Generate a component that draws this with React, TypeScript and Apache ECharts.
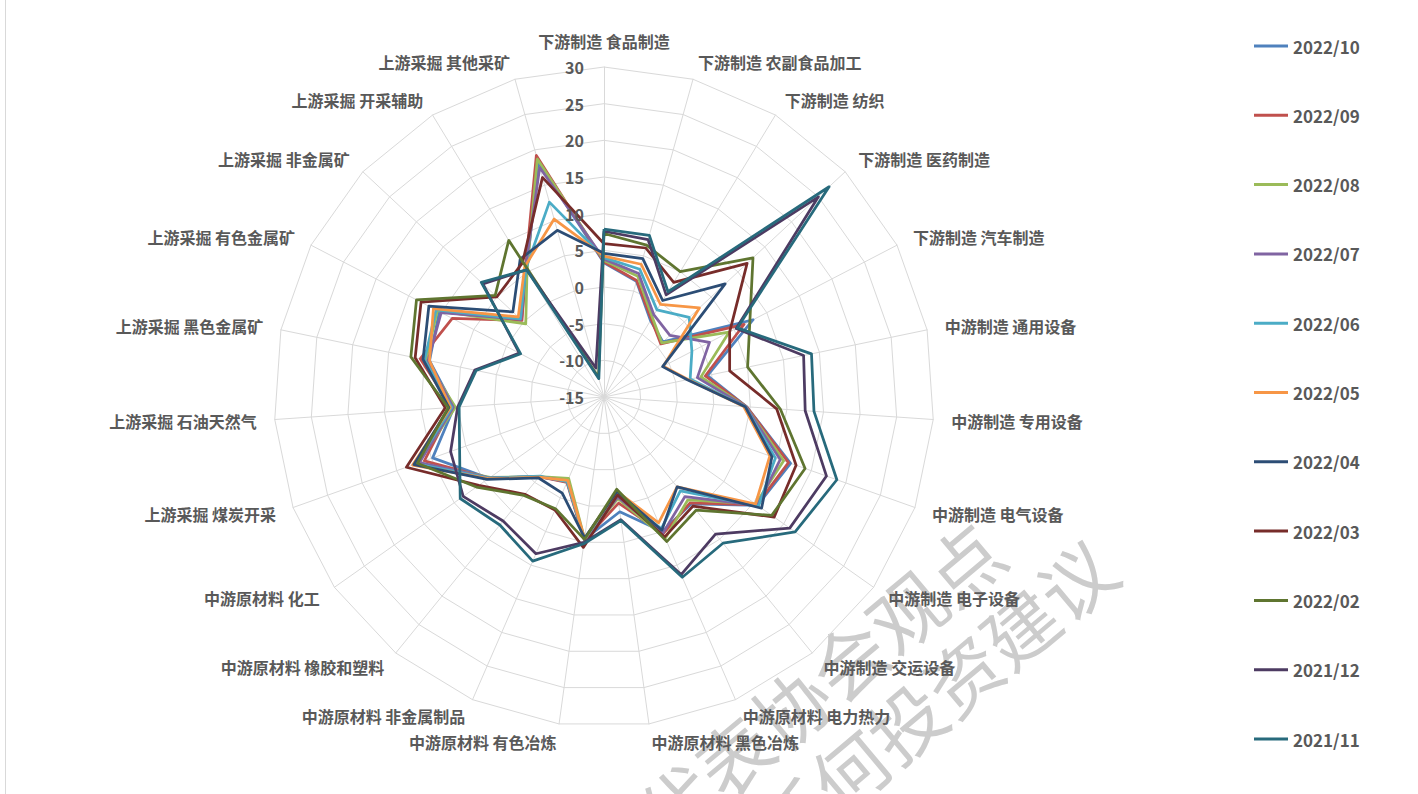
import React, { useEffect, useRef } from 'react';
import * as echarts from 'echarts';

const FONT = "'Noto Sans CJK SC', 'Noto Sans', sans-serif";

// clockwise from top
const categories = [
  '下游制造 食品制造', '下游制造 农副食品加工', '下游制造 纺织', '下游制造 医药制造', '下游制造 汽车制造',
  '中游制造 通用设备', '中游制造 专用设备', '中游制造 电气设备', '中游制造 电子设备', '中游制造 交运设备',
  '中游原材料 电力热力', '中游原材料 黑色冶炼', '中游原材料 有色冶炼', '中游原材料 非金属制品',
  '中游原材料 橡胶和塑料', '中游原材料 化工',
  '上游采掘 煤炭开采', '上游采掘 石油天然气', '上游采掘 黑色金属矿', '上游采掘 有色金属矿',
  '上游采掘 非金属矿', '上游采掘 开采辅助', '上游采掘 其他采矿',
];

const periods = ['2022/10', '2022/09', '2022/08', '2022/07', '2022/06', '2022/05', '2022/04', '2022/03', '2022/02', '2021/12', '2021/11'];

const colors = ['#4F81BD', '#C0504D', '#9BBB59', '#8064A2', '#4BACC6', '#F79646', '#2C4D75', '#772C2A', '#5F7530', '#4D3B62', '#276A7C'];

const v202210 = [3.3, 1.4, -2.8, -4.0, 7.9, -0.6, 4.5, 12.0, 10.6, 3.8, 5.0, 0.8, 4.6, -2.4, -1.0, 4.2, 9.8, 5.5, 9.3, 10.3, 0.4, 5.3, 18.3];
const v202209 = [3.4, 1.5, -2.6, -4.4, 6.5, -0.9, 4.5, 11.7, 10.5, 3.6, 5.3, -0.4, 4.7, -2.3, -1.0, 4.2, 11.0, 5.8, 10.6, 8.3, 0.3, 5.6, 19.2];
const v202208 = [3.6, 2.1, -2.3, -4.2, 4.2, -1.5, 4.4, 11.0, 10.3, 3.1, 6.0, -1.0, 4.5, -2.9, -1.0, 4.0, 12.0, 5.3, 9.8, 10.6, -0.4, 5.2, 18.7];
const v202207 = [3.8, 2.5, -1.9, -2.7, 1.2, -2.0, 4.4, 10.5, 10.6, 2.5, 5.2, -1.2, 4.6, -2.5, -1.0, 4.1, 11.7, 5.6, 9.5, 10.0, 0.5, 5.6, 17.5];
const v202206 = [4.0, 3.1, -1.1, 0.9, -1.5, -3.0, 4.3, 9.8, 10.8, 1.5, 4.6, -1.6, 4.6, -2.4, -1.1, 4.2, 12.2, 5.8, 10.0, 10.8, 0.6, 5.5, 12.6];
const v202205 = [4.2, 3.8, -0.2, 2.8, -5.9, -3.3, 4.1, 9.0, 10.3, 0.8, 3.7, -2.0, 4.5, -2.6, -0.9, 4.3, 12.7, 6.0, 9.3, 11.2, 1.0, 5.8, 10.2];
const v202204 = [4.6, 4.6, 0.4, 7.6, -6.0, -3.4, 4.3, 9.3, 11.3, 0.8, 4.8, -2.0, 4.4, -0.7, -0.8, 4.5, 12.5, 6.2, 10.2, 11.9, 2.0, 7.0, 8.6];
const v202203 = [5.9, 6.1, 3.3, 11.7, 4.3, 2.5, 8.6, 12.8, 13.4, 4.2, 5.8, -1.5, 5.7, 1.8, 2.1, 5.9, 13.6, 6.7, 11.3, 13.1, 5.0, 6.4, 16.1];
const v202202 = [7.3, 6.5, 5.0, 12.8, 7.4, 5.0, 9.1, 14.1, 13.0, 4.9, 6.5, -2.3, 4.6, 1.6, 2.3, 6.3, 12.0, 6.3, 11.9, 13.8, 5.3, 10.0, -12.2];
const v202112 = [7.6, 7.3, 1.3, 25.0, 5.3, 12.8, 12.5, 17.2, 16.0, 9.1, 11.4, 1.9, 5.0, 8.3, 6.8, 8.5, 7.2, 5.0, 3.0, -2.0, 7.6, 5.3, -10.9];
const v202111 = [7.9, 7.9, 1.8, 27.0, 5.5, 13.9, 13.7, 18.7, 16.9, 10.7, 11.8, 2.0, 5.2, 9.4, 7.5, 9.0, 5.9, 4.8, 2.8, -2.2, 7.9, 5.3, -12.4];

const seriesValues = [v202210, v202209, v202208, v202207, v202206, v202205, v202204, v202203, v202202, v202112, v202111];

const axisMin = -15;
const axisMax = 30;
const axisStep = 5;

export default function App() {
  const ref = useRef<HTMLDivElement>(null);

  useEffect(() => {
    document.body.style.margin = '0';
    const chart = echarts.init(ref.current as HTMLDivElement, null, { renderer: 'svg' });
    // ECharts lays radar indicators counter-clockwise; reorder to get clockwise order
    const order = [0];
    for (let i = categories.length - 1; i >= 1; i--) order.push(i);

    const rot = (40 * Math.PI) / 180;

    const option: any = {
      animation: false,
      backgroundColor: '#ffffff',
      color: colors,
      legend: {
        data: periods,
        orient: 'vertical',
        left: 1249,
        top: 31,
        icon: 'rect',
        itemWidth: 34,
        itemHeight: 3,
        itemGap: 49.3,
        textStyle: { fontSize: 17, fontWeight: 'bold', color: '#595959', lineHeight: 20, fontFamily: FONT },
      },
      radar: {
        center: [604, 397],
        radius: 330,
        startAngle: 90,
        shape: 'polygon',
        splitNumber: (axisMax - axisMin) / axisStep,
        indicator: order.map((i) => ({ name: categories[i], min: axisMin, max: axisMax })),
        axisName: { color: '#595959', fontSize: 16, fontWeight: 'bold', fontFamily: FONT },
        nameGap: 18,
        axisLine: { lineStyle: { color: '#d9d9d9', width: 1 } },
        splitLine: { lineStyle: { color: '#d9d9d9', width: 1 } },
        splitArea: { show: false },
        axisTick: { show: false },
        axisLabel: { show: false },
      },
      polar: { center: [604, 397], radius: 330 },
      angleAxis: { type: 'value', min: 0, max: 360, startAngle: 90, show: false },
      radiusAxis: {
        type: 'value',
        min: axisMin,
        max: axisMax,
        interval: axisStep,
        axisLine: { show: false },
        axisTick: { show: false },
        splitLine: { show: false },
        axisLabel: { show: true, fontSize: 16, fontWeight: 'bold', color: '#595959', margin: 20, fontFamily: FONT },
        z: 20,
      },
      series: periods.map((p, k) => ({
        type: 'radar',
        name: p,
        symbol: 'none',
        z: 2 + k,
        lineStyle: { width: 2.75, color: colors[k] },
        itemStyle: { color: colors[k] },
        data: [{ name: p, value: order.map((i) => seriesValues[k][i]) }],
      })),
      graphic: [
        {
          type: 'line',
          silent: true,
          z: 0,
          shape: { x1: 5.5, y1: 0, x2: 5.5, y2: 794 },
          style: { stroke: '#d9d9d9', lineWidth: 1 },
        },
        {
          type: 'text',
          silent: true,
          x: 790,
          y: 706,
          rotation: rot,
          z: 0,
          style: { text: '仅代表协会观点', fontSize: 75, fill: '#cccccc', align: 'center', verticalAlign: 'middle', fontFamily: FONT },
        },
        {
          type: 'text',
          silent: true,
          x: 848,
          y: 768,
          rotation: rot,
          z: 0,
          style: { text: '不构成任何投资建议', fontSize: 74, fill: '#cccccc', align: 'center', verticalAlign: 'middle', fontFamily: FONT },
        },
      ],
    };
    chart.setOption(option);
    return () => chart.dispose();
  }, []);

  return <div ref={ref} style={{ position: 'absolute', left: 0, top: 0, width: 1418, height: 794 }} />;
}
